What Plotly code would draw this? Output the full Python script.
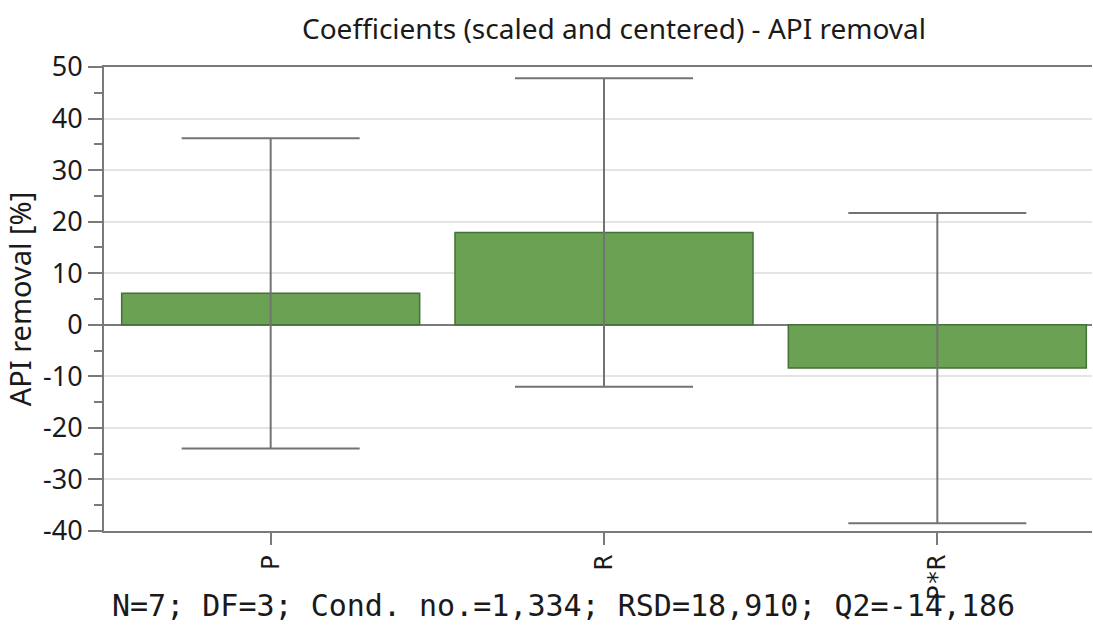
import plotly.graph_objects as go

categories = ["P", "R", "P*R"]
coefficients = [6.1, 17.9, -8.4]
conf_int = [30.1, 29.9, 30.1]
y_tick_vals = [-40, -30, -20, -10, 0, 10, 20, 30, 40, 50]
y_tick_text = ["-40", "-30", "-20", "-10", "0", "10", "20", "30", "40", "50"]

title_text = "Coefficients (scaled and centered) - API removal"
y_title = "API removal [%]"
footer_text = "N=7; DF=3; Cond. no.=1,334; RSD=18,910; Q2=-14,186"

ui_font = "Noto Sans"
mono_font = "DejaVu Sans Mono"
axis_color = "#7a7a7a"
text_color = "#1a1a1a"

fig = go.Figure()
fig.add_trace(go.Bar(
    x=list(range(len(categories))),
    y=coefficients,
    width=0.894,
    marker=dict(color="#6ba153", line=dict(color="#44703a", width=1.5)),
    error_y=dict(type="data", array=conf_int, visible=True,
                 color="#737373", thickness=2, width=89),
    showlegend=False,
))

fig.update_layout(
    width=1093, height=625,
    margin=dict(l=104, r=1, t=67, b=94),
    paper_bgcolor="white", plot_bgcolor="white",
    title=dict(text=title_text, x=614 / 1093, xanchor="center", y=1 - 29 / 625, yanchor="middle",
               font=dict(family=ui_font, size=28, color=text_color)),
    xaxis=dict(
        range=[-0.5, 2.464],
        tickmode="array", tickvals=list(range(len(categories))), ticktext=categories,
        tickangle=-90, ticks="outside", ticklen=12, tickwidth=2, tickcolor=axis_color,
        showline=True, linecolor=axis_color, linewidth=2, mirror=True,
        showgrid=False, zeroline=False,
        tickfont=dict(family=mono_font, size=25, color=text_color),
    ),
    yaxis=dict(
        range=[-40, 50],
        tickmode="array", tickvals=y_tick_vals, ticktext=y_tick_text,
        ticks="outside", ticklen=14, tickwidth=2, tickcolor=axis_color,
        minor=dict(ticks="outside", ticklen=8, tickwidth=2, tickcolor=axis_color,
                   dtick=5, tick0=5, showgrid=False),
        showline=True, linecolor=axis_color, linewidth=2,
        showgrid=True, gridcolor="#e4e4e4", gridwidth=2,
        zeroline=True, zerolinecolor=axis_color, zerolinewidth=2,
        tickfont=dict(family=ui_font, size=27, color=text_color),
        title=dict(text=y_title, font=dict(family=ui_font, size=29, color=text_color),
                   standoff=4),
    ),
)

fig.add_annotation(
    text=footer_text, xref="paper", yref="paper",
    x=(563 - 104) / 988, y=-(605 - 531) / 464, xanchor="center", yanchor="middle",
    showarrow=False, font=dict(family=mono_font, size=30, color=text_color),
)

fig.write_html("out.html", config={"displayModeBar": False},
               post_script="document.body.style.margin='0';")
